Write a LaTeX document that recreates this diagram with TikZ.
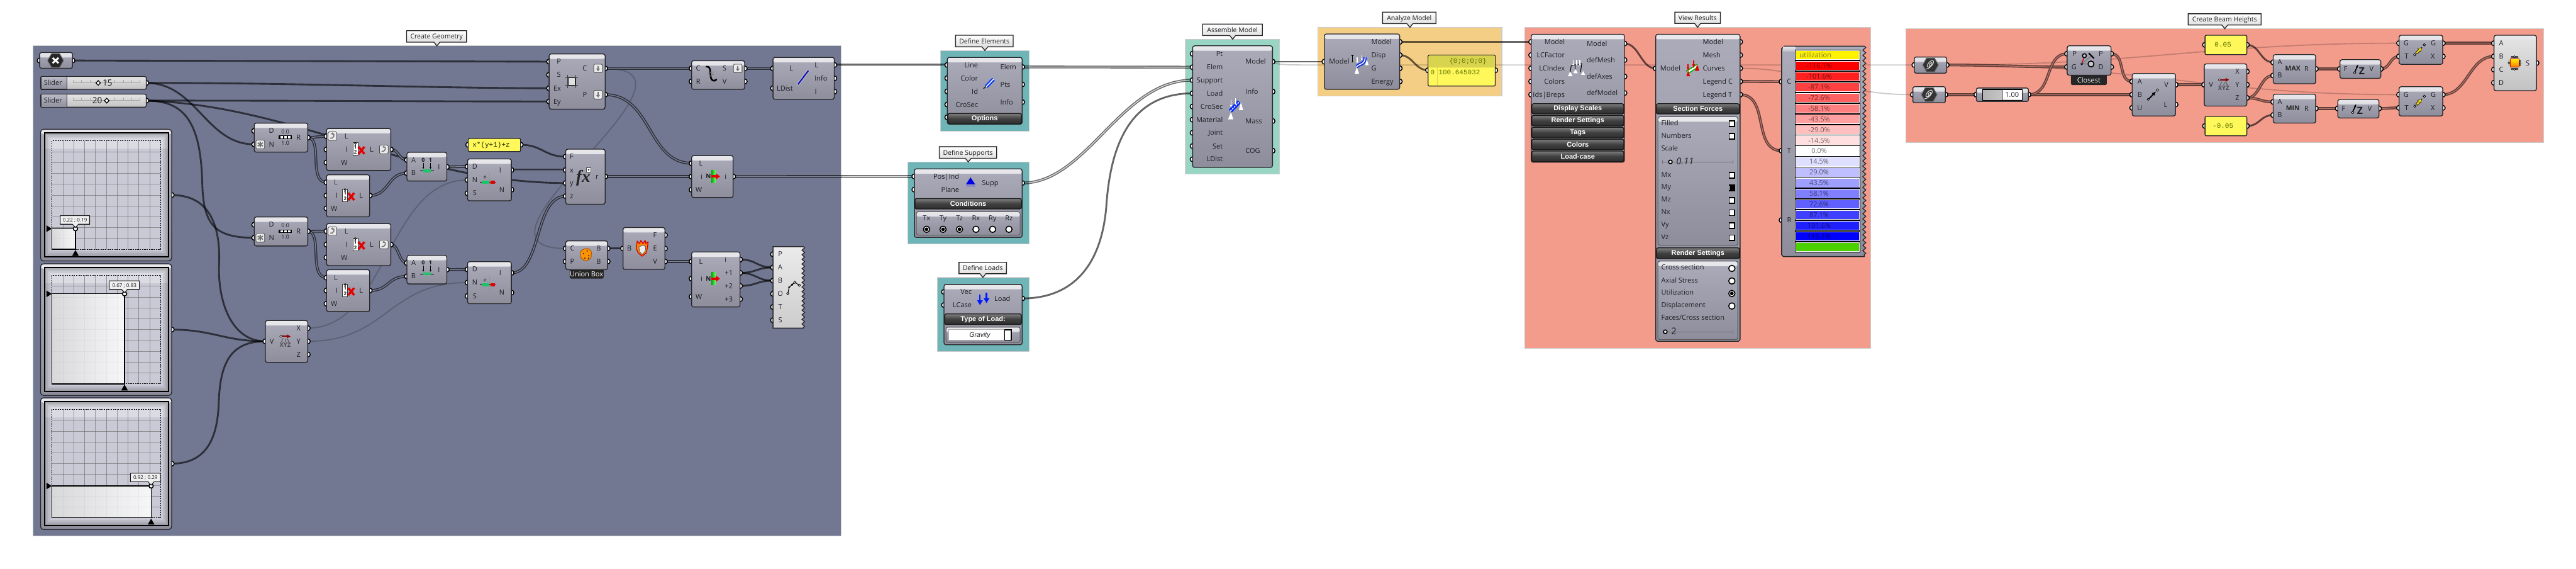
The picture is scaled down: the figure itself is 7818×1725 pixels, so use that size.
\documentclass[tikz,border=0pt]{standalone}
\usepackage{fontspec}
\setmainfont{Open Sans}
\newfontfamily\pbarf{Liberation Sans}
\newfontfamily\pmonof{Liberation Mono}
\newfontfamily\pserf{Liberation Serif}
\usetikzlibrary{arrows.meta,calc,decorations.pathmorphing}
\pgfdeclarelayer{grp}\pgfdeclarelayer{wire}\pgfdeclarelayer{ports}
\pgfsetlayers{grp,wire,ports,main}
\definecolor{cSlate}{HTML}{727891}
\definecolor{cTeal}{HTML}{6FB5B8}
\definecolor{cAqua}{HTML}{98D5C3}
\definecolor{cOrange}{HTML}{F5CE85}
\definecolor{cSalmon}{HTML}{F49C8C}
\definecolor{cOut}{HTML}{26262A}
\definecolor{cBodyT}{HTML}{ABABBA}
\definecolor{cBodyB}{HTML}{8D8D9B}
\definecolor{cBandT}{HTML}{E8E8EC}
\definecolor{cBandB}{HTML}{BCBCC8}
\definecolor{cYel}{HTML}{FFF85A}
\definecolor{cYelD}{HTML}{D9D44F}
\definecolor{cMono}{HTML}{5F7300}
\definecolor{cTxt}{HTML}{1E1E24}
\definecolor{cGrid}{HTML}{C9CAD5}
\definecolor{cGreen}{HTML}{1FC46A}
\newcommand{\fsz}[1]{\fontsize{#1}{#1}\selectfont}
\newcount\txc
\tikzset{
 x=1pt,y=-1pt,
 gbody/.style={rectangle,rounded corners=6pt,draw=cOut,line width=2.5pt,inner sep=0pt,outer sep=0pt,top color=cBodyT,bottom color=cBodyB,
   path picture={\shade[top color=cBandT,bottom color=cBandB] (path picture bounding box.north west) rectangle ([yshift=-15pt]path picture bounding box.north east);}},
 gsub/.style={gbody,draw=black!65,line width=2pt},
 glight/.style={gbody,top color=black!10,bottom color=black!24},
 gbar/.style={rectangle,rounded corners=5pt,draw=black!90,line width=2.5pt,inner sep=0pt,outer sep=0pt,top color=black!50,bottom color=black!82,middle color=black!75,text=white,font=\pbarf\bfseries\fsz{21}},
 gdark/.style={rectangle,rounded corners=5pt,fill=black!85,inner sep=0pt,outer sep=0pt,text=white,font=\fsz{21}},
 gyel/.style={rectangle,rounded corners=4pt,draw=cOut,line width=2.5pt,fill=cYel,inner sep=0pt,outer sep=0pt},
 ggroup/.style={rectangle,draw=black!20,line width=2.5pt,inner sep=0pt,outer sep=0pt},
 portc/.style={circle,fill=white,draw=black,line width=2.8pt,minimum size=15pt,inner sep=0pt},
 txt/.style={inner sep=0pt,outer sep=0pt,text height=15pt,text depth=0pt,text=cTxt,font=\fsz{21}},
 mono/.style={txt,text=cMono,font=\pmonof\fsz{21}},
 swire/.style={draw=black,draw opacity=.6,line width=5.5pt},
 fwire/.style={draw=black,draw opacity=.2,line width=3.5pt},
 dwS/.style={draw=cSlate!40!black,double=cSlate!92!white,line width=3pt,double distance=2.4pt},
 dwW/.style={draw=black!58,double=black!12,line width=3pt,double distance=2.4pt},
 dwT/.style={draw=cTeal!40!black,double=cTeal!88!white,line width=3pt,double distance=2.4pt},
 dwA/.style={draw=cAqua!40!black,double=cAqua!88!white,line width=3pt,double distance=2.4pt},
 dwR/.style={draw=cSalmon!40!black,double=cSalmon!75!black,line width=3pt,double distance=2.4pt},
 ick/.style={rectangle,fill=white,draw=black,line width=3pt,minimum size=17pt,inner sep=0pt},
 ird/.style={circle,fill=white,draw=black,line width=3pt,minimum size=19pt,inner sep=0pt},
 idot/.style={circle,fill=white,draw=black!80,line width=1.6pt,minimum size=7pt,inner sep=0pt},
}
\newcommand{\mkrn}[7][]{\node[#1,minimum width={(#5-#3)*1pt},minimum height={(#6-#4)*1pt}] (#2) at ({(#3+#5)/2},{(#4+#6)/2}) {#7};}
\newcommand{\mkport}[3]{\begin{pgfonlayer}{ports}\node[portc] (#1) at (#2,{#3}) {};\end{pgfonlayer}}
\newcommand{\mkports}[3]{\foreach \nn/\yy in {#3}{\mkport{#1\nn}{#2}{\yy}}}
\newcommand{\mktx}[4][]{\global\advance\txc by 1\relax\node[txt,#1] (tx\the\txc) at (#2,{#3}) {#4};}
\newcommand{\mkdot}[2]{\global\advance\txc by 1\relax\node[idot] (tx\the\txc) at (#1,#2) {};}
\newcommand{\mkwire}[5][swire]{\draw[#1] (#2.center) .. controls +(#4,0) and +(-#5,0) .. (#3.center);}
\newcommand{\mkgroup}[6]{\begin{pgfonlayer}{grp}\mkrn[ggroup,fill=#6]{#1}{#2}{#3}{#4}{#5}{}\end{pgfonlayer}}
\newcommand{\mkcall}[8]{\path[draw=black!85,line width=2.5pt,top color=white,bottom color=black!16] (#2,#3)--(#4,#3)--(#4,#5)--({#6+9},#5)--(#6,#7)--({#6-9},#5)--(#2,#5)--cycle;
 \node[txt,font=\fsz{20}] (#1) at ({(#2+#4)/2},{(#3+#5)/2}) {#8};}
\newcommand{\icoX}[2]{\begin{scope}[shift={(#1,#2)}]
 \draw[black!65,line width=2pt] (-6,-9)--(-12,3) (2,-9)--(0,3) (6,-9)--(12,3);
 \draw[draw=red!55!black,line width=4pt,-{Latex[length=11pt,width=13pt]}] (-12,-15)--(17,-15);
 \mkdot{-13}{-15}
 \mktx[font=\bfseries\fsz{18},text height=13pt,text=black!70]{0}{11}{XYZ}
 \end{scope}}
\newcommand{\icoDiv}[2]{\begin{scope}[shift={(#1,#2)}]
 \mktx[font=\fsz{17},text height=12pt]{0}{-17}{0.0}\mktx[font=\fsz{17},text height=12pt]{0}{17}{1.0}
 \fill[black] (-20,-5) rectangle (20,5);
 \foreach \q in {-14,-3,8}{\fill[white] (\q,-3) rectangle ({\q+7},3);}
 \end{scope}}
\newcommand{\icoList}[2]{\begin{scope}[shift={(#1,#2)}]
 \draw[fill=white,draw=black!80,line width=1.6pt] (-17,-20) rectangle (-2,18);
 \mktx[font=\bfseries\fsz{15},text height=11pt]{-9.5}{-7}{1}\mktx[font=\bfseries\fsz{15},text height=11pt]{-9.5}{9}{2}
 \draw[black,line width=1.5pt] (-9.5,-18) circle (3);
 \draw[red!90!black,line width=6.5pt] (0,-8)--(18,14) (18,-8)--(0,14);
 \end{scope}}
\newcommand{\icoDom}[2]{\begin{scope}[shift={(#1,#2)}]
 \mktx[font=\bfseries\fsz{17},text height=12pt]{-11}{-21}{0}\mktx[font=\bfseries\fsz{17},text height=12pt]{11}{-21}{1}
 \draw[line width=1.8pt,-{Latex[length=6pt,width=6pt]}] (-11,-12)--(-11,7);
 \draw[line width=1.8pt,-{Latex[length=6pt,width=6pt]}] (11,-12)--(11,7);
 \draw[line width=2pt] (-21,13)--(21,13);
 \fill[cGreen] (-11,8) rectangle (11,17);
 \end{scope}}
\newcommand{\icoSer}[2]{\begin{scope}[shift={(#1,#2)}]
 \draw[black!45,line width=1.2pt,dash pattern=on 2pt off 2pt] (4,-28)--(4,18);
 \draw[black,line width=1.5pt] (-25,0)--(22,0);
 \fill[cGreen] (-20,-5) rectangle (2,5);
 \fill[red!90!black] (7,-5) rectangle (20,5);
 \mkdot{-10}{-15}
 \end{scope}}
\newcommand{\icoRect}[2]{\begin{scope}[shift={(#1,#2)}]
 \draw[black!75,line width=1.6pt] (-20,-12)--(20,-12) (-20,12)--(20,12) (-12,-20)--(-12,20) (12,-20)--(12,20);
 \draw[fill=black!12,draw=black,line width=2.2pt] (-11,-11) rectangle (11,11);
 \end{scope}}
\newcommand{\icoFx}[2]{\begin{scope}[shift={(#1,#2)}]
 \mktx[font=\pserf\itshape\bfseries\fsz{52},text height=26pt,text=black!85]{-3}{4}{fx}
 \draw[fill=white,draw=black!70,line width=1.3pt] (7,-26) rectangle (20,-14);
 \fill[black] (13.5,-20) circle (2.5);
 \end{scope}}
\newcommand{\icoShat}[2]{\begin{scope}[shift={(#1,#2)}]
 \draw[line width=5pt,line cap=round] (-16,-25) .. controls (0,-25) and (-6,-8) .. (-3,6) .. controls (-1,20) and (10,20) .. (14,14);
 \draw[black!60,line width=1.2pt] (-10,-5)--(6,-9) (-8,3)--(6,-2) (-3,-14)--(-2,8);
 \end{scope}}
\newcommand{\icoLd}[2]{\begin{scope}[shift={(#1,#2)}]
 \draw[black!30,line width=9pt] (-18,24)--(18,-22);
 \draw[blue!80!black,line width=3.5pt] (-16,22)--(16,-20);
 \end{scope}}
\newcommand{\icoItem}[2]{\begin{scope}[shift={(#1,#2)}]
 \mktx[font=\bfseries\fsz{19},text height=14pt]{-15}{0}{N}
 \shade[left color=green!65!black,right color=green!55!white] (-6,-19) rectangle (7,19);
 \fill[red!90!black] (-7,-4) rectangle (9,4);
 \fill[red!90!black] (8,-9)--(20,0)--(8,9)--cycle;
 \end{scope}}
\newcommand{\icoChz}[2]{\begin{scope}[shift={(#1,#2)}]
 \fill[orange!85!yellow,draw=orange!70!black,line width=2pt,rounded corners=6pt] (-16,-12)--(4,-20)--(17,-12)--(16,12)--(-2,20)--(-16,10)--cycle;
 \foreach \a/\b in {-7/-3,4/-11,9/3,-3/11,8/11}{\fill[black!80] (\a,\b) circle (2.4);}
 \end{scope}}
\newcommand{\icoBurn}[2]{\begin{scope}[shift={(#1,#2)}]
 \fill[orange!95!yellow,draw=red!85!black,line width=2.5pt,line join=round] (-15,-22)--(-8,-14)--(-4,-24)--(2,-14)--(9,-24)--(11,-14)--(18,-20)--(16,-2)--(12,14)--(0,24)--(-12,14)--(-18,0)--cycle;
 \fill[black!8,draw=black!70,line width=1.5pt] (-10,-4)--(2,-10)--(11,-5)--(9,9)--(0,19)--(-8,10)--cycle;
 \end{scope}}
\newcommand{\icoPoly}[2]{\begin{scope}[shift={(#1,#2)}]
 \draw[line width=2pt] (-11,22)--(-7,3)--(10,-12)--(24,-3);
 \fill (-7,3) circle (3) (2,-5) circle (3.5);
 \foreach \a/\b in {-11/22,10/-12,24/-3}{\draw[fill=white,line width=1.6pt] (\a,\b) circle (3.5);}
 \end{scope}}
\newcommand{\icoHex}[2]{\begin{scope}[shift={(#1,#2)}]
 \fill[black!85,draw=black!60,line width=2pt] (-24,0)--(-12,-21)--(12,-21)--(24,0)--(12,21)--(-12,21)--cycle;
 \draw[white,line width=5.5pt] (-9,-8)--(9,8) (9,-8)--(-9,8);
 \end{scope}}
\newcommand{\icoCoil}[2]{\begin{scope}[shift={(#1,#2)}]
 \fill[black!80,draw=black!55,line width=2pt] (-24,0)--(-12,-21)--(12,-21)--(24,0)--(12,21)--(-12,21)--cycle;
 \draw[black!15,line width=2pt] (-14,12) .. controls (-8,16) and (15,-6) .. (8,-13) .. controls (2,-18) and (-14,0) .. (-9,6) .. controls (-5,10) and (8,-3) .. (4,-7) .. controls (0,-9) and (-6,1) .. (-2,2);
 \end{scope}}
\newcommand{\icoElem}[2]{\begin{scope}[shift={(#1,#2)}]
 \draw[black!85,line width=3pt] (-16,14)--(-6,4);
 \draw[blue!80!cyan,line width=11pt] (-8,8)--(14,-15);
 \draw[white,line width=3pt] (-8,8)--(14,-15);
 \end{scope}}
\newcommand{\icoSup}[2]{\begin{scope}[shift={(#1,#2)}]
 \fill[blue!90!black] (-14,7)--(0,-14)--(14,7)--cycle;
 \draw[blue!80!white,line width=2pt] (-14,12)--(14,12);
 \end{scope}}
\newcommand{\icoLoad}[2]{\begin{scope}[shift={(#1,#2)}]
 \foreach \a/\b in {-10/5,10/-1}{
 \draw[blue!90!cyan,line width=4.5pt] (\a,{\b-14})--(\a,{\b+5});
 \fill[blue!90!cyan] ({\a-9},{\b+2})--({\a+9},{\b+2})--(\a,{\b+17})--cycle;}
 \end{scope}}
\newcommand{\icoModel}[2]{\begin{scope}[shift={(#1,#2)}]
 \draw[blue!85!cyan,line width=12pt] (-14,15)--(13,-13);
 \draw[white,line width=3pt,dash pattern=on 5pt off 3pt] (-14,15)--(13,-13);
 \fill[white] (-21,40)--(-12,18)--(-5,40)--cycle (12,12)--(18,-12)--(25,12)--cycle;
 \draw[white,line width=2.5pt,-{Latex[length=6pt,width=7pt]}] (-12,-18)--(-12,3);
 \draw[white,line width=2.5pt,-{Latex[length=6pt,width=7pt]}] (2,-24)--(2,-4);
 \end{scope}}
\newcommand{\icoAn}[2]{\begin{scope}[shift={(#1,#2)}]
 \draw[blue!85!cyan,line width=10pt] (-12,14) .. controls (-5,6) and (14,8) .. (14,-14);
 \draw[white,line width=3pt] (-12,14) .. controls (-5,6) and (14,8) .. (14,-14);
 \fill[white] (-18,36)--(-11,16)--(-4,36)--cycle (14,10)--(19,-8)--(25,10)--cycle;
 \draw[white,line width=2.5pt,-{Latex[length=6pt,width=7pt]}] (-10,-14)--(-10,4);
 \draw[white,line width=2.5pt,-{Latex[length=6pt,width=7pt]}] (4,-22)--(4,-4);
 \draw[black,line width=2pt] (-24,-20)--(-24,0) (-27,-20)--(-21,-20) (-27,0)--(-21,0);
 \end{scope}}
\newcommand{\icoDef}[2]{\begin{scope}[shift={(#1,#2)}]
 \draw[black,line width=2pt] (-14,-8)--(18,-14)--(14,12) (-14,-8)--(-18,18) (-2,-8)--(-2,12);
 \fill[white] (-24,24)--(-17,10)--(-10,24)--cycle (-8,15)--(-1,2)--(6,15)--cycle (16,20)--(22,8)--(28,20)--cycle;
 \foreach \a in {-8,3,12}{\draw[white,line width=3pt,-{Latex[length=5pt,width=7pt]}] (\a,-26)--(\a,-8);}
 \end{scope}}
\newcommand{\icoForce}[2]{\begin{scope}[shift={(#1,#2)}]
 \draw[green!70!black,line width=12pt] (-15,13)--(17,-8);
 \draw[white,line width=5pt] (-15,13)--(17,-8);
 \fill[red!90!black] (-17,24)--(-12,6)--(-6,24)--cycle (9,8)--(16,-12)--(22,8)--cycle;
 \fill[red!90!black] (-16,-4)--(-8,-4)--(-12,8)--cycle (1,-12)--(9,-12)--(5,0)--cycle;
 \draw[red!90!black,line width=3pt] (-12,-12)--(-12,-2) (5,-24)--(5,-10);
 \end{scope}}
\newcommand{\icoClose}[2]{\begin{scope}[shift={(#1,#2)}]
 \draw[black!55,line width=1.8pt] (-18,11)--(10,11) (-18,11)--(14,-16);
 \draw[red!85!black,line width=2.5pt] (-18,11)--(-10,-14);
 \draw[line width=4pt] (3,-22) .. controls (9,-18) and (12,-12) .. (19,-6);
 \draw[fill=black!20,line width=3pt] (-10,-14) circle (6);
 \draw[fill=black!22,line width=3pt] (10,11) circle (9);
 \draw[fill=white,line width=1.6pt] (-18,11) circle (3);
 \end{scope}}
\newcommand{\icoVec}[2]{\begin{scope}[shift={(#1,#2)}]
 \draw[line width=3.5pt,-{Latex[length=13pt,width=11pt]}] (-12,14)--(11,-10);
 \draw[fill=white,line width=1.6pt] (-13,14) circle (3.5) (15,-14) circle (3.5);
 \end{scope}}
\newcommand{\icoUz}[2]{\begin{scope}[shift={(#1,#2)}]
 \draw[line width=3pt,-{Latex[length=10pt,width=8pt]}] (-13,10)--(-2,-15);
 \draw[fill=white,line width=1.6pt] (-13,11) circle (3.5);
 \mktx[font=\bfseries\fsz{30},text height=21pt]{9}{5}{Z}
 \end{scope}}
\newcommand{\icoMv}[2]{\begin{scope}[shift={(#1,#2)}]
 \draw[black,line width=7.5pt,-{Latex[length=14pt,width=15pt]}] (-9,10)--(9,-10);
 \draw[yellow!80!orange,line width=4.5pt,-{Latex[length=10pt,width=11pt]}] (-8,9)--(7,-8);
 \draw[fill=white,line width=1.6pt] (-14,14) circle (3.5) (15,-16) circle (3.5);
 \end{scope}}
\newcommand{\icoSurf}[2]{\begin{scope}[shift={(#1,#2)}]
 \fill[black!70] (-11,-21) rectangle (11,-15) (-11,15) rectangle (11,21);
 \draw[black!70,line width=3pt] (-17,-10)--(-17,10) (17,-10)--(17,10);
 \draw[red!80!black,line width=2pt,top color=yellow!90!orange,bottom color=orange!95!red] (-13,-13) rectangle (13,13);
 \draw[fill=white,line width=1.2pt] (0,-19) circle (3) (0,19) circle (3) (-17,0) circle (3) (17,0) circle (3);
 \end{scope}}
\newcommand{\icoLoop}[2]{\begin{scope}[shift={(#1,#2)}]
 \draw[fill=black!8,draw=black!70,line width=1.5pt,rounded corners=3pt] (-13,-13) rectangle (13,13);
 \draw[black!55,line width=3pt,-{Latex[length=6pt,width=8pt]}] (-7,6) .. controls (4,10) and (9,-9) .. (-5,-7);
 \end{scope}}
\newcommand{\icoStar}[2]{\begin{scope}[shift={(#1,#2)}]
 \draw[fill=black!8,draw=black!70,line width=1.5pt,rounded corners=3pt] (-13,-13) rectangle (13,13);
 \draw[black!55,line width=3.5pt] (0,-9)--(0,9) (-8,-5)--(8,5) (-8,5)--(8,-5);
 \end{scope}}
\newcommand{\icoDown}[2]{\begin{scope}[shift={(#1,#2)}]
 \draw[fill=black!8,draw=black!70,line width=1.5pt,rounded corners=3pt] (-13,-13) rectangle (13,13);
 \draw[black!55,line width=4pt,-{Latex[length=8pt,width=13pt]}] (0,-8)--(0,9);
 \end{scope}}
\newcommand{\mkmap}[8]{
 \mkrn[gbody,rounded corners=9pt]{#1}{123}{#2}{521}{#2+399}{}
 \fill[cGrid] (135,{#2+11}) rectangle (511,{#2+387});
 \begin{scope}\clip (135,{#2+11}) rectangle (511,{#2+387});
  \fill[white,opacity=.35] (135,{#2+11}) rectangle (511,{#2+59});
  \draw[black,opacity=.07,line width=34pt] (135,{#2+11}) rectangle (511,{#2+387});
  \draw[black,opacity=.08,line width=22pt] (135,{#2+11}) rectangle (511,{#2+387});
  \draw[black,opacity=.1,line width=10pt] (135,{#2+11}) rectangle (511,{#2+387});
 \end{scope}
 \foreach \q in {1,...,9}{\draw[black!60,opacity=.6,line width=1.5pt] ({158+32.9*\q},{#2+35})--({158+32.9*\q},{#2+364}) (158,{#2+35+32.9*\q})--(487,{#2+35+32.9*\q});}
 \shade[left color=black!14,right color=white,opacity=.85] (158,#4) rectangle (#3,{#2+364});
 \draw[black,line width=2.2pt,dash pattern=on 4pt off 3pt] (158,{#2+35}) rectangle (487,{#2+364});
 \draw[black,line width=2.5pt] (158,#4)--(#3,#4)--(#3,{#2+364})--(158,{#2+364})--cycle;
 \draw[black,line width=3pt] (135,{#2+11}) rectangle (511,{#2+387});
 \fill[black] (141,{#4-10})--(157,#4)--(141,{#4+10})--cycle ({#3-10},{#2+384})--(#3,{#2+366})--({#3+10},{#2+384})--cycle;
 \draw[fill=white,line width=3pt] (#3,#4) circle (6.5);
 \path[draw=black!90,line width=2pt,fill=black!6] (#6,#8)--(#7,#8)--(#7,{#8+26})--({#3+9},{#8+26})--(#3,{#8+36})--({#3-9},{#8+26})--(#6,{#8+26})--cycle;
 \node[txt,text height=12pt,font=\fsz{15.5}] (#1-lb) at ({(#6+#7)/2},{#8+13}) {#5};
 \mkport{#1-o}{521}{#2+199.5}
}
\newcommand{\mkslider}[6]{
 \mkrn[gbody,rounded corners=5pt,top color=black!10,bottom color=black!24,path picture={}]{#1}{123}{#2}{444}{#3}{}
 \path[draw=cOut,line width=2pt,top color=cBandB,bottom color=cBodyB] (125,#2)--(203,#2)--(203,#3)--(125,#3)--cycle;
 \mktx{161}{(#2+#3)/2}{Slider}
 \draw[black!35,line width=1.5pt] (222,{#2+18})--(425,{#2+18});
 \foreach \q in {0,...,8}{\draw[black!35,line width=1.5pt] ({222+25.4*\q},{#2+10})--({222+25.4*\q},{#2+18});}
 \draw[fill=white,line width=2.5pt] ({#4-7},{(#2+#3)/2})--(#4,{(#2+#3)/2-7})--({#4+7},{(#2+#3)/2})--(#4,{(#2+#3)/2+7})--cycle;
 \mktx[font=\fsz{26},text height=19pt]{#6}{(#2+#3)/2-1}{#5}
 \mkport{#1-o}{444}{(#2+#3)/2}
}
\begin{document}
\begin{tikzpicture}
\useasboundingbox (0,0) rectangle (7818,1725);
\begin{pgfonlayer}{grp}\fill[white] (0,0) rectangle (7818,1725);\end{pgfonlayer}
% ======= groups
\mkgroup{gGeo}{100}{139}{2553}{1625}{cSlate}
\mkgroup{gEl}{2854}{153}{3123}{397.6}{cTeal}
\mkgroup{gSu}{2755}{491}{3123}{739.5}{cTeal}
\mkgroup{gLo}{2845}{841.5}{3123}{1066}{cTeal}
\mkgroup{gAs}{3598}{119}{3883}{527.7}{cAqua}
\mkgroup{gAn}{3999}{83}{4558}{291.7}{cOrange}
\mkgroup{gVi}{4627}{83}{5677}{1056}{cSalmon}
\mkgroup{gBe}{5784}{87}{7719}{431.7}{cSalmon}
% ======= callouts
\mkcall{cGeo}{1234}{93}{1416}{128}{1326}{139}{Create Geometry}
\mkcall{cEl}{2900}{107}{3075}{142}{2989}{153}{Define Elements}
\mkcall{cSu}{2850.5}{445}{3024.6}{480}{2938.5}{491}{Define Supports}
\mkcall{cLo}{2910.5}{795.5}{3054.6}{830}{2983}{841.5}{Define Loads}
\mkcall{cAs}{3650}{73}{3831}{107.7}{3741}{119}{Assemble Model}
\mkcall{cAn}{4196}{37}{4358}{71.7}{4279}{83}{Analyze Model}
\mkcall{cVi}{5083}{37}{5221}{71}{5152}{83}{View Results}
\mkcall{cBe}{6641}{41.7}{6862}{75.7}{6752}{87}{Create Beam Heights}
% ======= Create Geometry
\mkrn[gbody,rounded corners=5pt]{tog}{120.5}{159.5}{220}{207}{}
\mkport{tog-i}{120.5}{183.5}\mkport{tog-o}{220}{183.5}
\icoHex{168.6}{183.5}
\mkslider{sl1}{232}{271}{298}{15}{326}
\mkslider{sl2}{285.5}{325}{324}{20}{295}
\mkmap{gm1}{392}{229}{693.5}{0.22 ; 0.19}{183}{272}{654}
\mkmap{gm2}{800}{378}{891}{0.67 ; 0.83}{332}{423}{851.5}
\mkmap{gm3}{1206.5}{458.6}{1473.7}{0.92 ; 0.29}{396}{487}{1435}
% decon vector
\mkrn[gbody]{dv}{805.5}{972}{934}{1099}{}
\mkports{dv-}{805.5}{V/1035}\mkports{dv-}{934}{X/995,Y/1035,Z/1075}
\mktx{825}{1035}{V}\mktx{906}{995}{X}\mktx{906}{1035}{Y}\mktx{906}{1075}{Z}\icoX{865.5}{1035}
% divide domain
\mkrn[gbody]{dd1}{771.5}{373.4}{934}{461.3}{}
\mkports{dd1-}{771.5}{D/397,N/437.7}\mkport{dd1-R}{934}{417.3}
\mktx{824}{397}{D}\mktx{824}{438}{N}\mktx{906}{417}{R}\icoDiv{866}{416}
\icoStar{790}{438}
\mkrn[gbody]{dd2}{771.5}{658}{934}{746}{}
\mkports{dd2-}{771.5}{D/681.5,N/721}\mkport{dd2-R}{934}{701.3}
\mktx{824}{681.5}{D}\mktx{824}{721}{N}\mktx{906}{701}{R}\icoDiv{866}{701}
\icoStar{790}{721}
% list items
\mkrn[gbody]{li1}{991}{389.6}{1186}{517}{}
\mkports{li1-}{991}{L/413,I/453.4,W/493}\mkport{li1-O}{1186}{453.4}
\mktx{1051}{413}{L}\mktx{1052}{453}{I}\mktx{1045}{493}{W}\mktx{1128}{453}{L}\icoList{1088}{453}\icoLoop{1009}{413}\icoLoop{1165}{453}
\mkrn[gbody]{li2}{991}{530}{1122}{657.4}{}
\mkports{li2-}{991}{L/553,I/593,W/632}\mkport{li2-O}{1122}{593}
\mktx{1019}{553}{L}\mktx{1022}{593}{I}\mktx{1014}{632}{W}\mktx{1096}{593}{L}\icoList{1057}{593}
\mkrn[gbody]{li3}{991}{678}{1186}{805.4}{}
\mkports{li3-}{991}{L/701,I/741.6,W/781}\mkport{li3-O}{1186}{741.6}
\mktx{1051}{701}{L}\mktx{1052}{741.6}{I}\mktx{1045}{781}{W}\mktx{1128}{741.6}{L}\icoList{1088}{741.6}\icoLoop{1009}{701}\icoLoop{1165}{741.6}
\mkrn[gbody]{li4}{991}{818}{1122}{945}{}
\mkports{li4-}{991}{L/842,I/881,W/921}\mkport{li4-O}{1122}{881}
\mktx{1019}{842}{L}\mktx{1022}{881}{I}\mktx{1014}{921}{W}\mktx{1096}{881}{L}\icoList{1057}{881}
% construct domain
\mkrn[gbody]{cd1}{1235}{462}{1356}{549}{}
\mkports{cd1-}{1235}{A/485,B/525}\mkport{cd1-I}{1356}{506}
\mktx{1255}{485}{A}\mktx{1255}{525}{B}\mktx{1332}{506}{I}\icoDom{1295.5}{506}
\mkrn[gbody]{cd2}{1235}{774.5}{1356}{861}{}
\mkports{cd2-}{1235}{A/797.5,B/838}\mkport{cd2-I}{1356}{817.5}
\mktx{1255}{797.5}{A}\mktx{1255}{838}{B}\mktx{1332}{817.5}{I}\icoDom{1295.5}{817.5}
% series
\mkrn[gbody]{se1}{1419}{482}{1552}{609}{}
\mkports{se1-}{1419}{D/505,N/545.6,S/586}\mkports{se1-}{1552}{I/515.6,M/575.5}
\mktx{1441}{505}{D}\mktx{1441}{545.6}{N}\mktx{1441}{586}{S}\mktx{1518}{515.6}{I}\mktx{1523}{575.5}{N}\icoSer{1482}{552}
\mkrn[gbody]{se2}{1419}{793.6}{1552}{921}{}
\mkports{se2-}{1419}{D/817,N/857,S/897.6}\mkports{se2-}{1552}{I/827.5,M/887.4}
\mktx{1441}{817}{D}\mktx{1441}{857}{N}\mktx{1441}{897.6}{S}\mktx{1518}{827.5}{I}\mktx{1523}{887.4}{N}\icoSer{1482}{864}
% formula panel
\mkrn[gyel]{pf}{1421}{420}{1580}{459.5}{}
\mkport{pf-i}{1421}{439}\mkport{pf-o}{1580}{439}
\mktx[mono,anchor=west,text=black!65!cMono]{1434}{439}{x*(y+1)+z}
% expression
\mkrn[gbody]{ex}{1717}{452.5}{1836.5}{619.5}{}
\mkports{ex-}{1717}{F/475,x/515.6,y/555,z/595}\mkport{ex-r}{1836.5}{535.4}
\mktx{1735}{475}{F}\mktx{1735}{515.6}{x}\mktx{1735}{555}{y}\mktx{1735}{595}{z}\mktx{1812}{535.4}{r}\icoFx{1773}{535}
% rectangle
\mkrn[gbody]{re}{1666.5}{163.5}{1836.5}{331}{}
\mkports{re-}{1666.5}{P/187,S/227,Ex/267.5,Ey/307.7}\mkports{re-}{1836.5}{C/207.5,Q/287}
\mktx{1696}{187}{P}\mktx{1696}{227}{S}\mktx{1691}{267.5}{Ex}\mktx{1691}{307.7}{Ey}\mktx{1775}{207.5}{C}\mktx{1775}{287}{P}
\icoRect{1735}{247}\icoDown{1815}{207.5}\icoDown{1815}{287}
% shatter
\mkrn[gbody]{sh}{2099}{184}{2260}{271}{}
\mkports{sh-}{2099}{C/207.5,R/247}\mkports{sh-}{2260}{S/207.5,V/247}
\mktx{2119}{207.5}{C}\mktx{2119}{247}{R}\mktx{2199}{207.5}{S}\mktx{2199}{247}{V}\icoShat{2160}{227}\icoDown{2239}{207.5}
% ldist
\mkrn[gbody]{ld}{2346}{174}{2532}{301}{}
\mkports{ld-}{2346}{L/207.5,D/267.5}\mkports{ld-}{2532}{O/197,N/237.5,J/277.7}
\mktx{2401}{207.5}{L}\mktx{2382}{267.5}{LDist}\mktx{2478}{197}{L}\mktx{2491.5}{237.5}{Info}\mktx{2476}{277.7}{I}\icoLd{2437.6}{234}
% item
\mkrn[gbody]{it}{2099}{472}{2225}{599}{}
\mkports{it-}{2099}{L/495,i/535.4,W/575.5}\mkport{it-o}{2225}{535.4}
\mktx{2127}{495}{L}\mktx{2129}{535.4}{i}\mktx{2121}{575.5}{W}\mktx{2202}{535.4}{i}\icoItem{2165}{535}
% union box
\mkrn[gdark]{ubl}{1729}{810}{1832}{845}{}
\mktx[text=white]{1780}{832}{Union Box}
\mkrn[gbody]{ub}{1717}{730.5}{1844}{818}{}
\mkports{ub-}{1717}{C/753.5,P/793}\mkports{ub-}{1844}{B/753.5,D/793}
\mktx{1737}{753.5}{C}\mktx{1737}{793}{P}\mktx{1817}{753.5}{B}\mktx{1817}{793}{B}\icoChz{1778}{772}
% burn
\mkrn[gbody]{bd}{1891}{690}{2018}{817}{}
\mkport{bd-B}{1891}{753.5}\mkports{bd-}{2018}{F/713,E/753.5,V/793}
\mktx{1910}{753.5}{B}\mktx{1988}{713}{F}\mktx{1988}{753.5}{E}\mktx{1988}{793}{V}\icoBurn{1949}{753}
% item 2
\mkrn[gbody]{ib}{2099}{764}{2246}{931}{}
\mkports{ib-}{2099}{L/793,i/845,W/899.5}\mkports{ib-}{2246}{o/787,a/827.5,b/867,c/907}
\mktx{2127}{793}{L}\mktx{2129}{845}{i}\mktx{2121}{899.5}{W}\mktx{2202}{787}{i}\mktx{2212}{827.5}{+1}\mktx{2212}{867}{+2}\mktx{2212}{907}{+3}\icoItem{2165}{845}
% polyline
\mkports{pl-}{2346}{P/771,A/811,B/851,O/891,T/931,S/971}
\path[draw=cOut,line width=2.5pt,top color=black!8,bottom color=black!20,decoration={zigzag,segment length=14pt,amplitude=4pt}] (2346,748)--(2438,748) decorate {--(2438,995)} --(2346,995)--cycle;
\mkrn[]{plb}{2346}{748}{2438}{995}{}
\mktx{2368}{771}{P}\mktx{2368}{811}{A}\mktx{2368}{851}{B}\mktx{2368}{891}{O}\mktx{2368}{931}{T}\mktx{2368}{971}{S}\icoPoly{2402}{868}
% ======= defines
\mkrn[gbody]{de}{2875}{174}{3102}{376.5}{}
\mkports{de-}{2875}{L/197,C/237,I/277,X/317,O/355.5}\mkports{de-}{3102}{E/203,P/256,N/309.6}
\mktx[anchor=east]{2968}{197}{Line}\mktx[anchor=east]{2968}{237}{Color}\mktx[anchor=east]{2968}{277}{Id}\mktx[anchor=east]{2968}{317}{CroSec}
\mktx[anchor=west]{3036}{203}{Elem}\mktx[anchor=west]{3036}{256}{Pts}\mktx[anchor=west]{3036}{309.6}{Info}\icoElem{3001}{255}
\mkrn[gbar]{de-b}{2877}{344}{3100}{376}{Options}
\mkrn[gbody]{ds}{2775}{512}{3102}{720}{}
\mkports{ds-}{2775}{P/535,L/575}\mkport{ds-S}{3102}{555}
\mktx[anchor=east]{2911}{535}{Pos|Ind}\mktx[anchor=east]{2911}{575}{Plane}\mktx[anchor=west]{2980}{555}{Supp}\icoSup{2945.5}{552}
\mkrn[gbar]{ds-b}{2777}{602}{3100}{633.6}{Conditions}
\mkrn[gsub]{ds-s}{2781}{642}{3096}{713}{}
\foreach \xx/\lb/\st in {2812/Tx/1,2862/Ty/1,2912/Tz/1,2962/Rx/0,3012.5/Ry/0,3062/Rz/0}{
 \mktx{\xx}{661}{\lb}
 \node[ird] (r\lb) at (\xx,695.4) {};
 \ifnum\st=1 \fill[black] (\xx,695.4) circle (5.5);\fi
}
\mkrn[gbody]{dl}{2865}{862.5}{3102}{1045.5}{}
\mkports{dl-}{2865}{V/885,C/925}\mkport{dl-L}{3102}{905}
\mktx[anchor=east]{2949}{885}{Vec}\mktx[anchor=east]{2949}{925}{LCase}\mktx[anchor=west]{3018}{905}{Load}\icoLoad{2984}{903}
\mkrn[gbar]{dl-b}{2867}{952}{3100}{984}{Type of Load:}
\mkrn[gsub]{dl-s}{2871}{992}{3096}{1038.5}{}
\fill[white,draw=black!30,line width=1pt] (2878,999) rectangle (3047,1031.5);
\draw[fill=white,draw=black,line width=2.5pt] (3049,1000) rectangle (3069,1031);
\mktx[font=\pbarf\itshape\fsz{20}]{2973.6}{1015}{Gravity}
% ======= assemble
\mkrn[gbody]{am}{3619.5}{139}{3862}{507.7}{}
\mkports{am-}{3619.5}{Pt/163,El/203.7,Su/243,Lo/283,Cr/323,Ma/363,Jo/402.7,Se/443,LD/483}\mkports{am-}{3862}{M/187,I/277.7,Ms/367,CG/457}
\foreach \yy/\lb in {163/Pt,203.7/Elem,243/Support,283/Load,323/CroSec,363/Material,402.7/Joint,443/Set,483/LDist}{\mktx[anchor=east]{3711}{\yy}{\lb}}
\foreach \yy/\lb in {187/Model,277.7/Info,367/Mass,457/COG}{\mktx[anchor=west]{3780}{\yy}{\lb}}
\icoModel{3748}{322}
% ======= analyze
\mkrn[gbody]{an}{4019.5}{103}{4248}{271}{}
\mkport{an-i}{4019.5}{187}\mkports{an-}{4248}{M/127,D/167,G/207,E/247}
\mktx[anchor=west]{4033.5}{187}{Model}
\foreach \yy/\lb in {127/Model,167/Disp,207/G,247/Energy}{\mktx[anchor=west]{4162}{\yy}{\lb}}
\icoAn{4129}{188}
\mkrn[gyel]{pd}{4334}{167}{4538}{261}{}
\fill[cYelD,rounded corners=3pt] (4336,169) rectangle (4536,205);
\draw[cYelD,line width=1.5pt] (4362,169)--(4362,260);
\mkport{pd-i}{4334}{213}\mkport{pd-o}{4538}{213}
\mktx[mono]{4455}{184}{\{0;0;0;0\}}\mktx[mono]{4348}{219}{0}\mktx[mono,anchor=west]{4366}{219}{100.645032}
% ======= view results
\mkrn[gbody]{va}{4647}{104}{4930}{492}{}
\mkports{va-}{4647}{M/127,F/167,I/207,C/247,B/287}\mkports{va-}{4930}{O/132,H/182,A/232,D/282}
\foreach \yy/\lb in {127/Model,167/LCFactor,207/LCIndex,247/Colors,287/Ids|Breps}{\mktx[anchor=east]{4749}{\yy}{\lb}}
\foreach \yy/\lb in {132/Model,182/defMesh,232/defAxes,282/defModel}{\mktx[anchor=west]{4816}{\yy}{\lb}}
\icoDef{4782.5}{207}
\mkrn[gbar]{vb1}{4649}{314.6}{4928}{345.5}{Display Scales}
\mkrn[gbar]{vb2}{4649}{350}{4928}{382}{Render Settings}
\mkrn[gbar]{vb3}{4649}{386}{4928}{418}{Tags}
\mkrn[gbar]{vb4}{4649}{422}{4928}{454}{Colors}
\mkrn[gbar]{vb5}{4649}{458}{4928}{490}{Load-case}
\mkrn[gbody]{vc}{5025}{104}{5281}{1035}{}
\mkport{vc-i}{5025}{207.5}\mkports{vc-}{5281}{M/127,H/167,C/207,L/247,T/287}
\mktx[anchor=west]{5038.6}{207.5}{Model}
\foreach \yy/\lb in {127/Model,167/Mesh,207/Curves,247/Legend C,287/Legend T}{\mktx[anchor=west]{5168}{\yy}{\lb}}
\icoForce{5135}{207}
\mkrn[gbar]{vb6}{5027}{314.6}{5279}{345.5}{Section Forces}
\mkrn[gsub]{vs1}{5031.6}{354}{5274}{744}{}
\foreach \yy/\lb in {373/Filled,411/Numbers,449/Scale,529/Mx,567/My,605/Mz,643/Nx,681/Vy,719/Vz}{\mktx[anchor=west]{5042}{\yy}{\lb}}
\foreach \yy/\nm in {375/a,413/b,531.5/c,569.6/d,607.7/e,645/f,684/g,721/h}{\node[ick] (ck\nm) at (5256,\yy) {};}
\fill[black] (5250,563.6) rectangle (5262,575.6);
\draw[black!55,line width=1.5pt] (5046,491)--(5260,491) (5046,485)--(5046,497) (5260,485)--(5260,497);
\node[circle,fill=white,draw=black,line width=3.2pt,minimum size=11pt,inner sep=0pt] (vh1) at (5069.5,491) {};
\mktx[font=\itshape\fsz{28},text height=20pt]{5114}{489}{0.11}
\mkrn[gbar]{vb7}{5027}{751.6}{5279}{784}{Render Settings}
\mkrn[gsub]{vs2}{5031.6}{792}{5274}{1030}{}
\mktx[anchor=west]{5042}{811}{Cross section}\mktx[anchor=west]{5042}{849.5}{Axial Stress}\mktx[anchor=west]{5042}{887.6}{Utilization}\mktx[anchor=west]{5042}{925}{Displacement}\mktx[anchor=west]{5042}{963}{Faces/Cross section}
\foreach \yy/\nm in {814/a,852/b,890/c,928/d}{\node[ird] (rd\nm) at (5256,\yy) {};}
\fill[black] (5256,890) circle (5.5);
\draw[black!55,line width=1.5pt] (5046,1006)--(5260,1006) (5260,1000)--(5260,1012);
\node[circle,fill=white,draw=black,line width=3.2pt,minimum size=11pt,inner sep=0pt] (vh2) at (5054,1006) {};
\mktx[font=\fsz{28},text height=20pt]{5080}{1004}{2}
% legend
\mkports{lg-}{5407}{C/247.6,T/457,R/667.5}
\path[draw=cOut,line width=2.5pt,top color=cBodyT,bottom color=cBodyB,decoration={zigzag,segment length=16pt,amplitude=4.5pt}] (5407,148)--(5415,140)--(5658,140) decorate {--(5658,778)} --(5412,778)--(5407,772)--cycle;
\shade[top color=cBandT,bottom color=cBandB] (5412,142) rectangle (5448,156);
\mkrn[]{lgb}{5407}{140}{5658}{778}{}
\mktx{5430}{247.6}{C}\mktx{5430}{457}{T}\mktx{5430}{667.5}{R}
\fill[black] (5448,150) rectangle (5646,766);
\foreach \ii/\tv/\cv in {0/utilization/yellow,1/-116.1\%/red,2/-101.6\%/red!87.5!white,3/-87.1\%/red!75!white,4/-72.6\%/red!62.5!white,5/-58.1\%/red!50!white,6/-43.5\%/red!37.5!white,7/-29.0\%/red!25!white,8/-14.5\%/red!12.5!white,9/0.0\%/white,10/14.5\%/blue!12.5!white,11/29.0\%/blue!25!white,12/43.5\%/blue!37.5!white,13/58.1\%/blue!50!white,14/72.6\%/blue!62.5!white,15/87.1\%/blue!75!white,16/101.6\%/blue!87.5!white,17/116.1\%/blue,18/{}/{green!70!black!60!lime}}{
 \pgfmathsetmacro{\ycc}{167+32.35*\ii}
 \fill[white] (5450,{\ycc-14.5}) rectangle (5644,{\ycc+14.5});
 \fill[\cv] (5452,{\ycc-12.8}) rectangle (5642,{\ycc+12.8});
 \ifnum\ii=0 \mktx[anchor=west,text=yellow!40!black]{5462}{\ycc}{\tv}\else\mktx[text=black,text opacity=.55]{5521}{\ycc}{\tv}\fi
}
% ======= beam heights
\mkrn[gbody,rounded corners=5pt]{he1}{5810}{173}{5908}{221.7}{}
\mkport{he1-i}{5810}{197}\mkport{he1-o}{5908}{197}\icoCoil{5859}{197}
\mkrn[gbody,rounded corners=5pt]{he2}{5805.4}{263}{5904}{311.7}{}
\mkport{he2-i}{5805.4}{287}\mkport{he2-o}{5904}{287}\icoCoil{5855}{287}
\mkrn[gbody,rounded corners=5pt]{ns}{5998}{267}{6156}{307.7}{}
\mkport{ns-i}{5998}{287}\mkport{ns-o}{6156}{287}
\shade[left color=black!30,right color=black!15,draw=black,line width=2.5pt] (6017,271)rectangle(6137,304);
\fill[white] (6076,272.5) rectangle (6135.5,302.5);
\draw[black,line width=2pt] (6076,271)--(6076,304);
\mktx{6106.5}{287}{1.00}
\mkrn[gdark]{cll}{6285}{220}{6394}{258}{}
\mktx[text=white]{6339.5}{243}{Closest}
\mkrn[gbody]{cl}{6273.5}{139}{6407}{228}{}
\mkports{cl-}{6273.5}{P/163,G/203}\mkports{cl-}{6407}{Q/163,D/203}
\mktx{6296}{163}{P}\mktx{6294.6}{203}{G}\mktx{6376}{163}{P}\mktx{6376}{203}{D}\icoClose{6336}{183}
\mkrn[gbody]{vv}{6471}{223}{6602.6}{351.7}{}
\mkports{vv-}{6471}{A/247,B/287,U/327}\mkports{vv-}{6602.6}{V/257,L/317}
\mktx{6494}{247}{A}\mktx{6494}{287}{B}\mktx{6494}{327}{U}\mktx{6574.5}{257}{V}\mktx{6572.5}{317}{L}\icoVec{6532.5}{287}
\mkrn[gbody]{dc}{6689.6}{193.7}{6819}{321.7}{}
\mkport{dc-V}{6689.6}{257}\mkports{dc-}{6819}{X/217,Y/257,Z/297}
\mktx{6710}{257}{V}\mktx{6790}{217}{X}\mktx{6790}{257}{Y}\mktx{6790}{297}{Z}\icoX{6748.6}{257}
\mkrn[gyel]{p5}{6692}{107}{6819}{165.7}{}
\mkport{p5-i}{6692}{136}\mkport{p5-o}{6819}{136}\mktx[mono]{6746.5}{134}{0.05}
\mkrn[gyel]{m5}{6692}{353}{6819}{411.7}{}
\mkport{m5-i}{6692}{382}\mkport{m5-o}{6819}{382}\mktx[mono]{6746.5}{380}{-0.05}
\mkrn[gbody]{mx}{6899}{165.7}{7028}{253.7}{}
\mkports{mx-}{6899}{A/189,B/229}\mkport{mx-R}{7028}{209}
\mktx{6919}{189}{A}\mktx{6919}{229}{B}\mktx{7000}{209}{R}\mktx[font=\bfseries\fsz{20},text=black!85]{6958.5}{208}{MAX}
\mkrn[gbody]{mn}{6899}{285.7}{7028}{373}{}
\mkports{mn-}{6899}{A/309,B/349}\mkport{mn-R}{7028}{329}
\mktx{6919}{309}{A}\mktx{6919}{349}{B}\mktx{7000}{329}{R}\mktx[font=\bfseries\fsz{20},text=black!85]{6958.5}{328}{MIN}
\mkrn[gbody]{uz1}{7101.5}{181}{7225.5}{237.7}{}
\mkport{uz1-F}{7101.5}{209}\mkport{uz1-V}{7225.5}{209}
\mktx{7118.5}{209}{F}\mktx{7197.5}{209}{V}\icoUz{7159}{210}
\mkrn[gbody]{uz2}{7095}{301.7}{7220}{357.7}{}
\mkport{uz2-F}{7095}{329}\mkport{uz2-V}{7220}{329}
\mktx{7112}{329}{F}\mktx{7192}{329}{V}\icoUz{7153}{330}
\mkrn[gbody]{mv1}{7281}{107}{7413.5}{195}{}
\mkports{mv1-}{7281}{G/131,T/171}\mkports{mv1-}{7413.5}{O/131,X/171}
\mktx{7302.5}{131}{G}\mktx{7304}{171}{T}\mktx{7385}{131}{G}\mktx{7383.5}{171}{X}\icoMv{7342.6}{152}
\mkrn[gbody]{mv2}{7281}{263}{7413.5}{351.7}{}
\mkports{mv2-}{7281}{G/287,T/327}\mkports{mv2-}{7413.5}{O/287,X/327}
\mktx{7302.5}{287}{G}\mktx{7304}{327}{T}\mktx{7385}{287}{G}\mktx{7383.5}{327}{X}\icoMv{7342.6}{308}
\mkrn[glight]{sf}{7569}{107}{7698}{275}{}
\mkports{sf-}{7569}{A/131,B/171,C/211,D/251}\mkport{sf-S}{7698}{191}
\mktx{7591}{131}{A}\mktx{7591}{171}{B}\mktx{7591}{211}{C}\mktx{7591}{251}{D}\mktx{7671}{191}{S}\icoSurf{7631.5}{191}
% ======= wires
\begin{pgfonlayer}{wire}
\draw[fwire] (dv-X.center) .. controls (1176,995) and (1176,545.6) .. (se1-N.center);
\draw[fwire] (dv-Y.center) .. controls (1176,1035) and (1176,857) .. (se2-N.center);
\draw[fwire] (re-C.center) .. controls (2200,207.5) and (1350,753.5) .. (ub-C.center);
\draw[fwire] (am-M.center) .. controls (3872,197) and (3900,197) .. (4000,197) -- (5650,197) .. controls (5720,197) and (5760,197) .. (he1-i.center);
\draw[fwire] (vc-C.center) .. controls (5500,207) and (5560,287) .. (he2-i.center);
\draw[fwire] (he1-o.center) .. controls (6500,197) and (6700,131) .. (mv1-G.center);
\draw[fwire] (he1-o.center) .. controls (6500,197) and (6700,287) .. (mv2-G.center);
\draw[swire] (tog-o.center) -- (re-P.center);
\draw[swire] (sl1-o.center) .. controls (900,251) and (1300,267.5) .. (re-Ex.center);
\draw[swire] (sl2-o.center) .. controls (900,305) and (1300,307.7) .. (re-Ey.center);
\mkwire{sl1-o}{dd1-N}{152}{146}
\draw[swire] (sl2-o.center) .. controls (560,305) and (610,370) .. (614,560) .. controls (618,680) and (650,721) .. (dd2-N.center);
\draw[swire] (sl2-o.center) .. controls (900,320) and (1250,555) .. (ex-y.center);
\draw[swire] (gm1-o.center) .. controls (640,591.5) and (669,690) .. (665,800) .. controls (660,910) and (700,1035) .. (dv-V.center);
\mkwire{gm2-o}{dv-V}{125}{125}
\draw[swire] (gm3-o.center) .. controls (620,1405.5) and (660,1340) .. (664,1220) .. controls (668,1100) and (700,1035) .. (dv-V.center);
\mkwire{pf-o}{ex-F}{65}{65}
\mkwire{ub-B}{bd-B}{15}{15}
\mkwire{ib-o}{pl-A}{50}{50}
\mkwire{ib-a}{pl-A}{50}{50}
\mkwire{ib-a}{pl-B}{50}{50}
\mkwire{ib-b}{pl-B}{50}{50}
\draw[swire] (am-M.center) -- (an-i.center);
\draw[swire] (an-M.center) -- (va-M.center);
\mkwire{an-D}{pd-i}{40}{40}
\mkwire{va-O}{vc-i}{45}{45}
\draw[swire] (dl-L.center) .. controls (3260,905) and (3345,800) .. (3358,620) .. controls (3371,440) and (3430,283) .. (am-Lo.center);
\mkwire{p5-o}{mx-A}{40}{40}
\mkwire{m5-o}{mn-B}{40}{40}
\mkwire[dwS]{dd1-R}{li1-L}{20}{20}
\mkwire[dwS]{dd1-R}{li2-L}{46}{56}
\mkwire[dwS]{dd2-R}{li3-L}{20}{20}
\mkwire[dwS]{dd2-R}{li4-L}{46}{56}
\mkwire[dwS]{li1-O}{cd1-A}{25}{25}
\mkwire[dwS]{li2-O}{cd1-B}{60}{60}
\mkwire[dwS]{li3-O}{cd2-A}{25}{25}
\mkwire[dwS]{li4-O}{cd2-B}{60}{60}
\mkwire[dwS]{cd1-I}{se1-D}{20}{20}
\mkwire[dwS]{cd2-I}{se2-D}{20}{20}
\mkwire[dwS]{se1-I}{ex-x}{60}{60}
\mkwire[dwS]{se2-I}{ex-z}{93}{97}
\mkwire[dwS]{ex-r}{it-i}{60}{60}
\mkwire[dwS]{re-C}{sh-C}{60}{60}
\mkwire[dwS]{sh-S}{ld-L}{30}{30}
\mkwire[dwS]{re-Q}{it-L}{143}{134}
\mkwire[dwS]{bd-V}{ib-L}{30}{30}
\draw[dwW] (ld-O.center) -- (de-L.center);
\begin{scope}\clip (2500,100) rectangle (2553,300);\draw[dwS] (ld-O.center) -- (de-L.center);\end{scope}
\begin{scope}\clip (2854,153) rectangle (2900,397);\draw[dwT] (ld-O.center) -- (de-L.center);\end{scope}
\draw[dwW] (it-o.center) -- (ds-P.center);
\begin{scope}\clip (2200,500) rectangle (2553,600);\draw[dwS] (it-o.center) -- (ds-P.center);\end{scope}
\begin{scope}\clip (2755,491) rectangle (2800,739);\draw[dwT] (it-o.center) -- (ds-P.center);\end{scope}
\draw[dwW] (de-E.center) -- (am-El.center);
\begin{scope}\clip (3090,153) rectangle (3123,397);\draw[dwT] (de-E.center) -- (am-El.center);\end{scope}
\begin{scope}\clip (3598,119) rectangle (3640,527);\draw[dwA] (de-E.center) -- (am-El.center);\end{scope}
\draw[dwW] (ds-S.center) .. controls (3300,555) and (3400,243) .. (am-Su.center);
\begin{scope}\clip (3090,491) rectangle (3123,739);\draw[dwT] (ds-S.center) .. controls (3300,555) and (3400,243) .. (am-Su.center);\end{scope}
\begin{scope}\clip (3598,119) rectangle (3640,527);\draw[dwA] (ds-S.center) .. controls (3300,555) and (3400,243) .. (am-Su.center);\end{scope}
\mkwire[dwR]{vc-L}{lg-C}{50}{50}
\mkwire[dwR]{vc-T}{lg-T}{90}{90}
\mkwire[dwR]{he1-o}{cl-G}{150}{150}
\mkwire[dwR]{he2-o}{ns-i}{30}{30}
\mkwire[dwR]{ns-o}{vv-B}{100}{100}
\mkwire[dwR]{ns-o}{cl-P}{75}{70}
\mkwire[dwR]{cl-Q}{vv-A}{45}{45}
\mkwire[dwR]{vv-V}{dc-V}{30}{30}
\mkwire[dwR]{dc-Z}{mx-B}{40}{40}
\mkwire[dwR]{dc-Z}{mn-A}{40}{40}
\mkwire[dwR]{mx-R}{uz1-F}{25}{25}
\mkwire[dwR]{mn-R}{uz2-F}{25}{25}
\mkwire[dwR]{uz1-V}{mv1-T}{28}{28}
\mkwire[dwR]{uz2-V}{mv2-T}{28}{28}
\mkwire[dwR]{mv1-O}{sf-A}{50}{50}
\mkwire[dwR]{mv2-O}{sf-B}{75}{75}
\end{pgfonlayer}
\end{tikzpicture}
\end{document}
